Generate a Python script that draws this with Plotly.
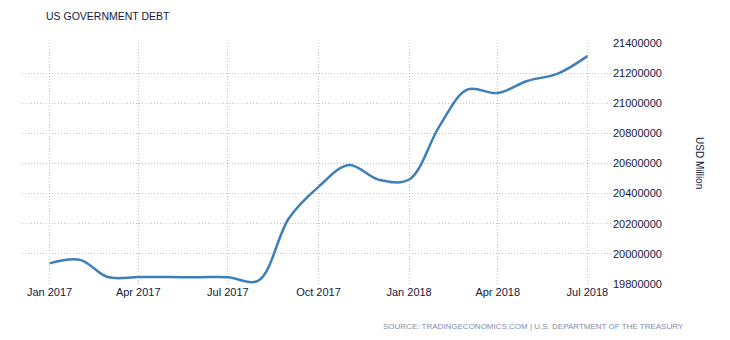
import plotly.graph_objects as go

months = ["2017-01-01", "2017-02-01", "2017-03-01", "2017-04-01", "2017-05-01", "2017-06-01",
          "2017-07-01", "2017-08-01", "2017-09-01", "2017-10-01", "2017-11-01", "2017-12-01",
          "2018-01-01", "2018-02-01", "2018-03-01", "2018-04-01", "2018-05-01", "2018-06-01",
          "2018-07-01"]
debt = [19937000, 19960000, 19846000, 19846000, 19846000, 19845000,
        19845000, 19823000, 20237000, 20445000, 20590000, 20493000,
        20494000, 20850000, 21090000, 21068000, 21148000, 21197000,
        21313000]
tick_dates = ["2017-01-01", "2017-04-01", "2017-07-01", "2017-10-01", "2018-01-01", "2018-04-01", "2018-07-01"]
tick_labels = ["Jan 2017", "Apr 2017", "Jul 2017", "Oct 2017", "Jan 2018", "Apr 2018", "Jul 2018"]
y_ticks = [19800000, 20000000, 20200000, 20400000, 20600000, 20800000, 21000000, 21200000, 21400000]

fig = go.Figure()
fig.add_trace(go.Scatter(
    x=months, y=debt, mode="lines",
    line=dict(color="#3f7fb8", width=2.5, shape="spline", smoothing=1),
    hoverinfo="x+y", showlegend=False,
))

font_main = "Liberation Sans, Arial, sans-serif"
txt_color = "#14183a"
fig.update_layout(
    width=730, height=340,
    margin=dict(l=22, r=118, t=43, b=56),
    paper_bgcolor="white", plot_bgcolor="white",
    font=dict(family=font_main, size=11, color=txt_color),
    xaxis=dict(
        type="date", range=["2016-12-04", "2018-07-26"],
        tickvals=tick_dates, ticktext=tick_labels,
        showgrid=True, gridcolor="#c4c4c4", griddash="1px,2px", gridwidth=1,
        zeroline=False, showline=False, ticks="", ticklen=0,
        tickfont=dict(family=font_main, size=11, color=txt_color),
    ),
    yaxis=dict(
        side="right", range=[19800000, 21400000],
        tickvals=y_ticks, ticktext=[str(v) for v in y_ticks],
        showgrid=True, gridcolor="#c4c4c4", griddash="1px,2px", gridwidth=1,
        zeroline=False, showline=False, ticks="", ticklen=0,
        tickfont=dict(family=font_main, size=11, color=txt_color),
    ),
    annotations=[
        dict(text="US GOVERNMENT DEBT", xref="paper", yref="paper",
             x=(44 - 22) / 590, y=1 + (43 - 16) / 241, xanchor="left", yanchor="middle",
             showarrow=False, font=dict(family=font_main, size=10.5, color=txt_color)),
        dict(text="USD Million", xref="paper", yref="paper",
             x=(700 - 22) / 590, y=(284 - 163) / 241, xanchor="center", yanchor="middle",
             textangle=90, showarrow=False,
             font=dict(family=font_main, size=10, color=txt_color)),
        dict(text="SOURCE: TRADINGECONOMICS.COM | U.S. DEPARTMENT OF THE TREASURY",
             xref="paper", yref="paper",
             x=(686 - 22) / 590, y=-(326 - 284) / 241, xanchor="right", yanchor="middle",
             showarrow=False,
             font=dict(family=font_main, size=8, color="#7f8ea8")),
    ],
)

fig.write_html("out.html")
